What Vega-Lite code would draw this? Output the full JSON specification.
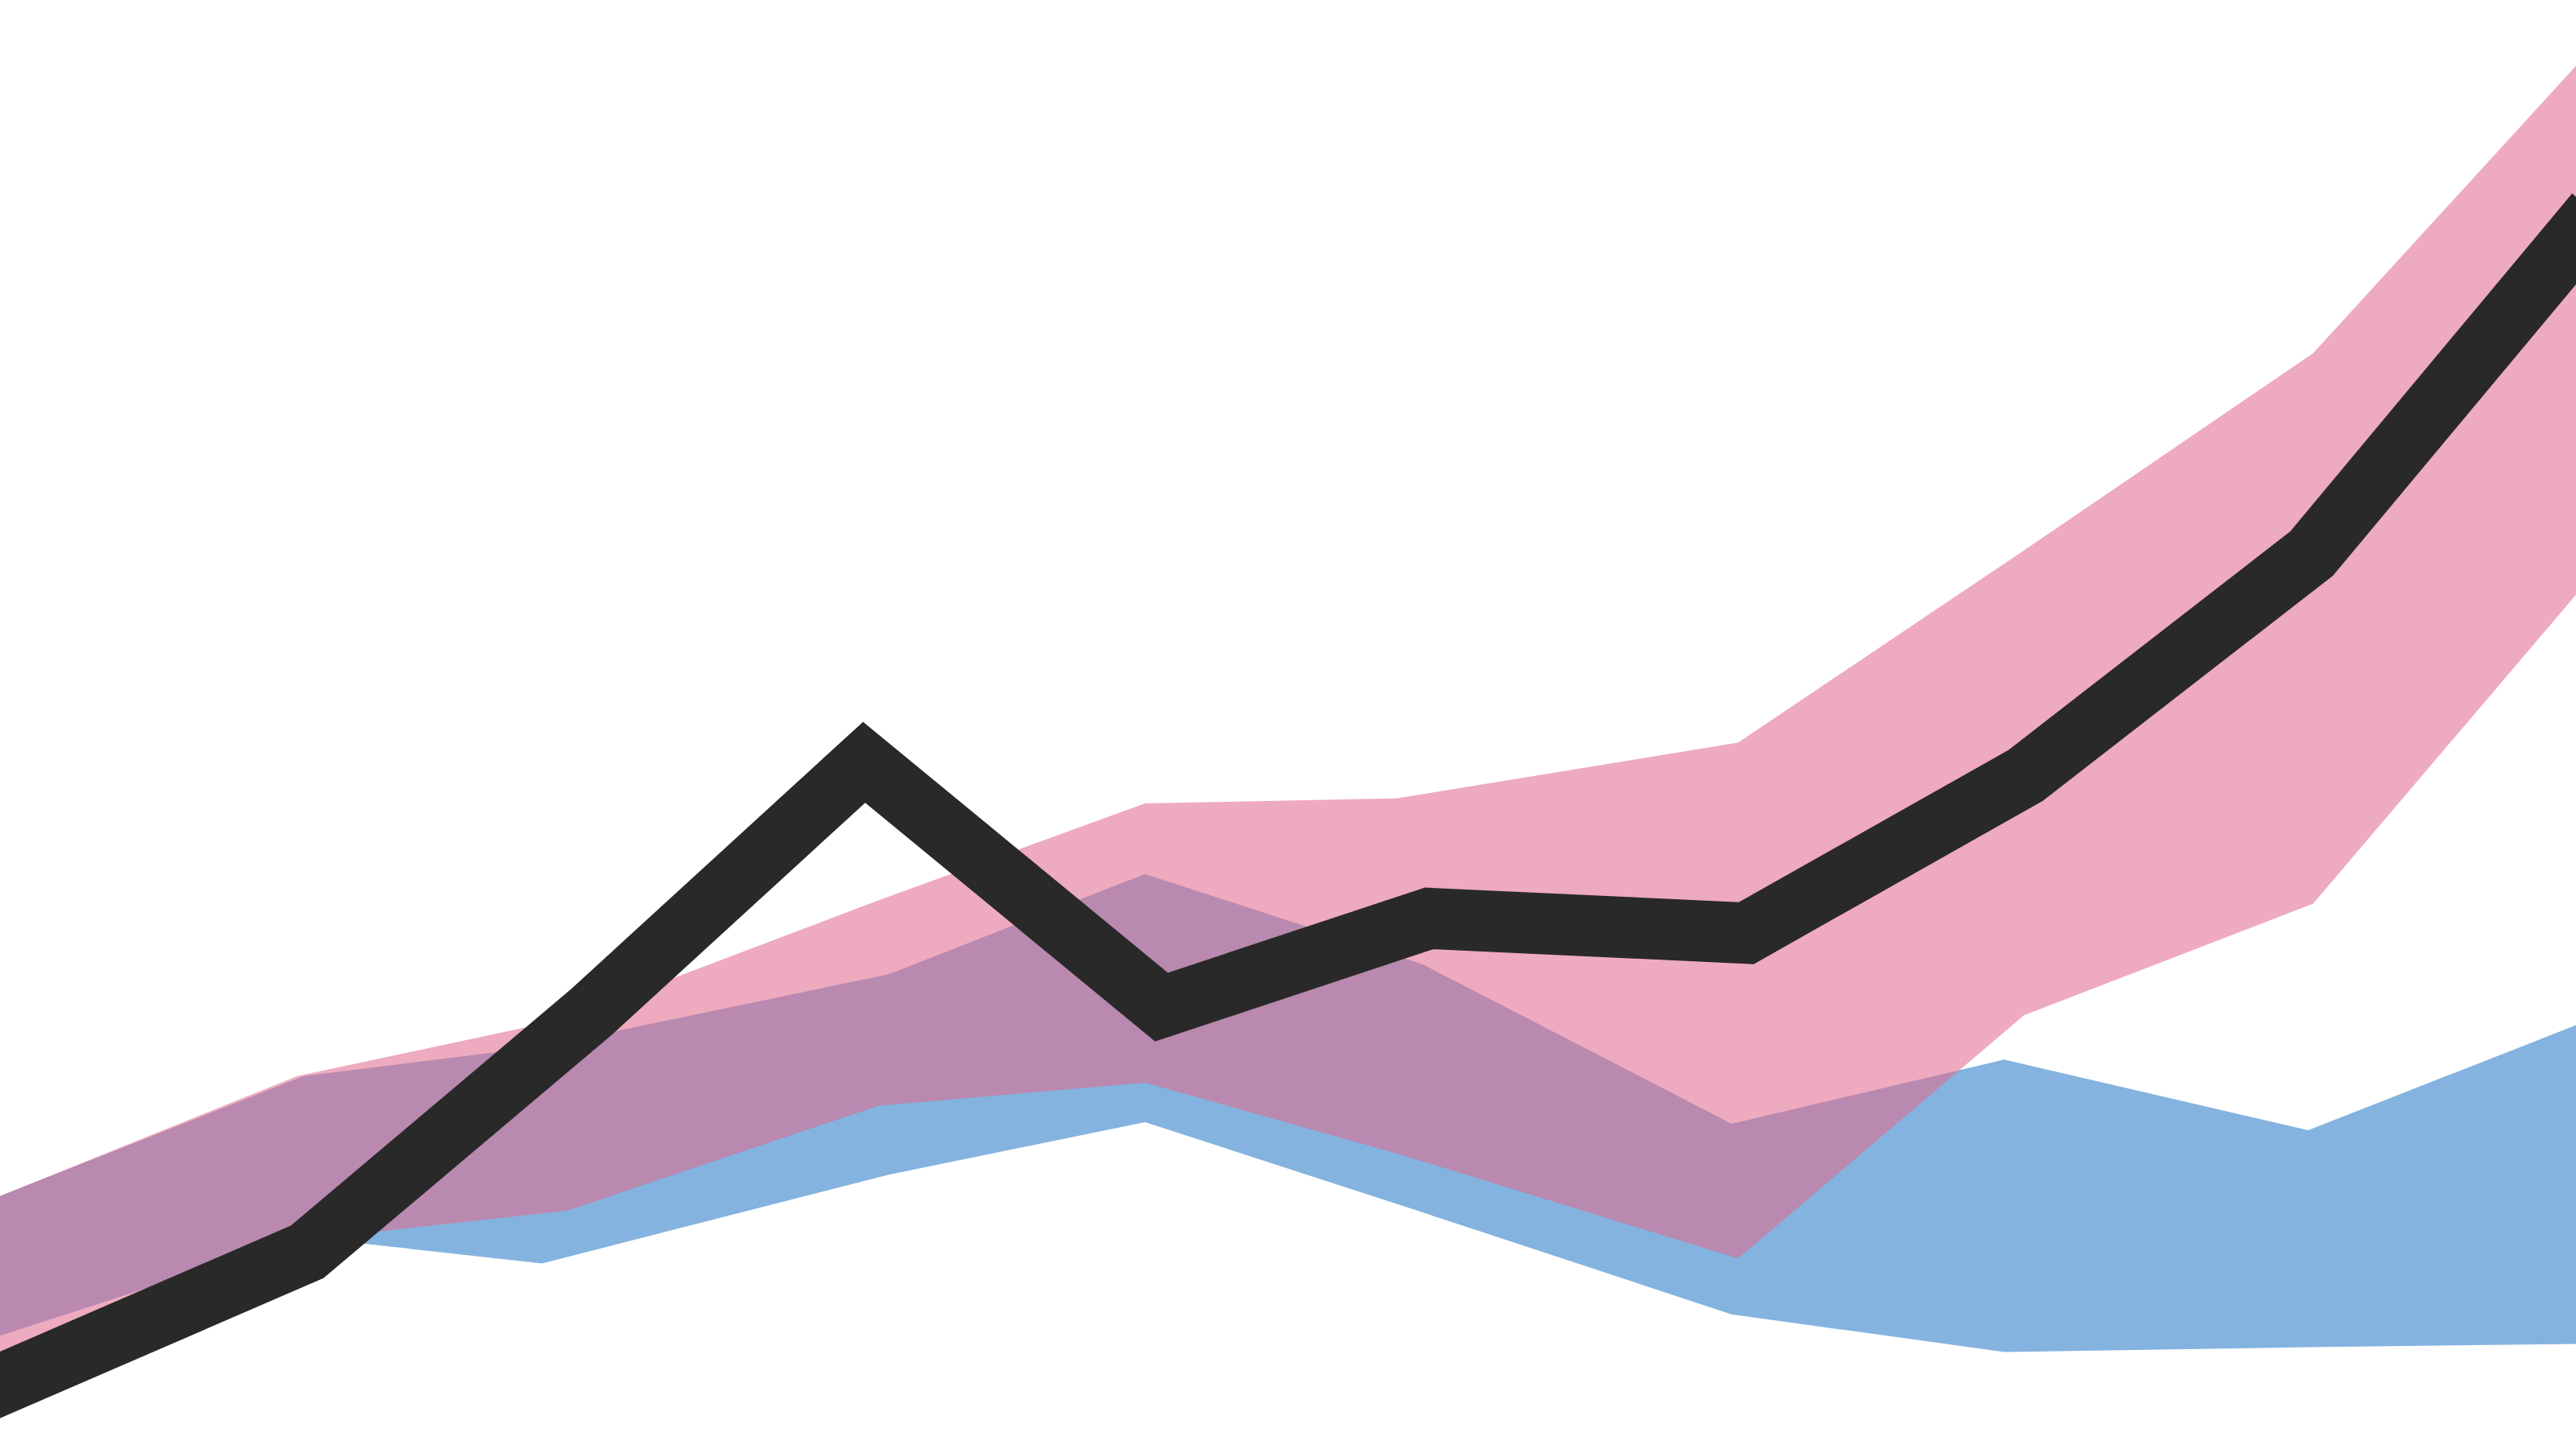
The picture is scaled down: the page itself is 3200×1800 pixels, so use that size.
{
  "$schema": "https://vega.github.io/schema/vega-lite/v6.json",
  "width": 3200,
  "height": 1800,
  "padding": 0,
  "autosize": {"type": "none"},
  "background": "white",
  "config": {"view": {"stroke": null}},
  "datasets": {
    "blue": [
      {"x": 0, "hi": 154, "lo": 69},
      {"x": 185, "hi": 227, "lo": 129},
      {"x": 330, "hi": 245, "lo": 113},
      {"x": 541, "hi": 289, "lo": 167},
      {"x": 697, "hi": 350, "lo": 199},
      {"x": 866, "hi": 295, "lo": 144},
      {"x": 1054, "hi": 198, "lo": 82},
      {"x": 1220, "hi": 237, "lo": 59},
      {"x": 1405, "hi": 194, "lo": 62},
      {"x": 1568, "hi": 258, "lo": 64}
    ],
    "pink": [
      {"x": 0, "hi": 154, "lo": 44},
      {"x": 181, "hi": 227, "lo": 127},
      {"x": 345, "hi": 262, "lo": 145},
      {"x": 535, "hi": 334, "lo": 209},
      {"x": 697, "hi": 393, "lo": 223},
      {"x": 850, "hi": 396, "lo": 180},
      {"x": 1058, "hi": 430, "lo": 116},
      {"x": 1232, "hi": 547, "lo": 264},
      {"x": 1408, "hi": 667, "lo": 332},
      {"x": 1568, "hi": 842, "lo": 520}
    ],
    "main": [
      {"x": 0, "y": 39},
      {"x": 187, "y": 120},
      {"x": 360, "y": 266},
      {"x": 526, "y": 418},
      {"x": 707, "y": 269},
      {"x": 870, "y": 323},
      {"x": 1063, "y": 314},
      {"x": 1233, "y": 410},
      {"x": 1407, "y": 545},
      {"x": 1568, "y": 738}
    ]
  },
  "layer": [
    {
      "data": {"name": "blue"},
      "mark": {"type": "area", "color": "#84B3DF"},
      "encoding": {
        "x": {"field": "x", "type": "quantitative", "scale": {"domain": [0, 1568], "nice": false, "zero": false}, "axis": null},
        "y": {"field": "hi", "type": "quantitative", "scale": {"domain": [0, 882], "nice": false, "zero": false}, "axis": null},
        "y2": {"field": "lo"}
      }
    },
    {
      "data": {"name": "pink"},
      "mark": {"type": "area", "color": "#E16A8D", "opacity": 0.57},
      "encoding": {
        "x": {"field": "x", "type": "quantitative", "axis": null},
        "y": {"field": "hi", "type": "quantitative", "axis": null},
        "y2": {"field": "lo"}
      }
    },
    {
      "data": {"name": "main"},
      "mark": {"type": "line", "color": "#292929", "strokeWidth": 76, "strokeJoin": "miter", "strokeCap": "square"},
      "encoding": {
        "x": {"field": "x", "type": "quantitative", "axis": null},
        "y": {"field": "y", "type": "quantitative", "axis": null}
      }
    }
  ]
}
